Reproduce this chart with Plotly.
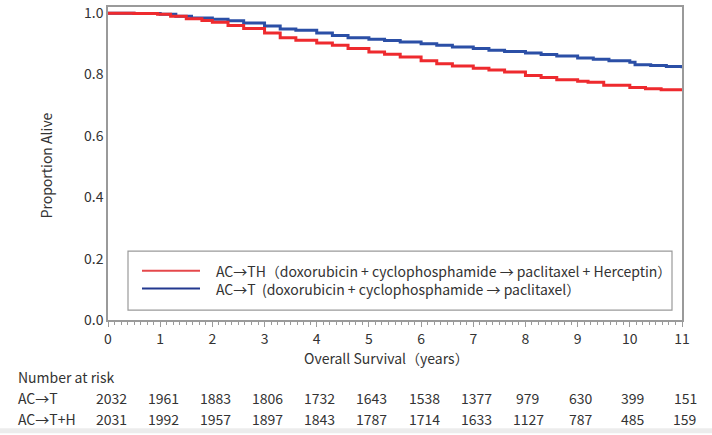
import plotly.graph_objects as go

# ---- data ----
t_act = [0, 0.5, 1.0, 1.3, 1.6, 2.0, 2.3, 2.6, 3.0, 3.3, 3.6, 4.0, 4.3, 4.6, 5.0, 5.3, 5.6,
         6.0, 6.3, 6.6, 7.0, 7.3, 7.6, 8.0, 8.3, 8.6, 9.0, 9.3, 9.6, 10.0, 10.1, 10.4, 10.7, 11.0]
s_act = [1.0, 0.999, 0.996, 0.99, 0.984, 0.98, 0.975, 0.968, 0.958, 0.948, 0.944, 0.935, 0.927,
         0.92, 0.915, 0.911, 0.906, 0.9, 0.895, 0.89, 0.885, 0.879, 0.875, 0.87, 0.865, 0.86,
         0.854, 0.85, 0.845, 0.84, 0.832, 0.829, 0.826, 0.82]

t_acth = [0, 0.5, 0.95, 1.2, 1.5, 1.8, 2.0, 2.3, 2.6, 3.0, 3.3, 3.6, 4.0, 4.3, 4.6, 5.0, 5.3,
          5.6, 6.0, 6.3, 6.6, 7.0, 7.3, 7.6, 8.0, 8.3, 8.6, 9.0, 9.2, 9.5, 10.0, 10.3, 10.6, 11.0]
s_acth = [1.0, 0.999, 0.996, 0.99, 0.982, 0.976, 0.97, 0.96, 0.95, 0.935, 0.92, 0.912, 0.903,
          0.895, 0.885, 0.873, 0.866, 0.857, 0.845, 0.835, 0.828, 0.82, 0.815, 0.808, 0.797,
          0.79, 0.783, 0.778, 0.775, 0.765, 0.758, 0.754, 0.75, 0.75]

risk_years = list(range(0, 12))
risk_act = [2032, 1961, 1883, 1806, 1732, 1643, 1538, 1377, 979, 630, 399, 151]
risk_acth = [2031, 1992, 1957, 1897, 1843, 1787, 1714, 1633, 1127, 787, 485, 159]

label_acth = "AC→TH（doxorubicin + cyclophosphamide → paclitaxel + Herceptin）"
label_act = "AC→T  (doxorubicin + cyclophosphamide → paclitaxel）"
row_act = "AC→T"
row_acth = "AC→T+H"

RED = "#EE2A2E"
BLUE = "#2B4FA6"
FONT = "Noto Sans CJK SC"
TXT = "#333333"
FS = 14

fig = go.Figure()
fig.add_trace(go.Scatter(x=t_act, y=s_act, mode="lines", line=dict(color=BLUE, width=3, shape="hv"),
                         name=label_act, showlegend=False, hoverinfo="skip"))
fig.add_trace(go.Scatter(x=t_acth, y=s_acth, mode="lines", line=dict(color=RED, width=3, shape="hv"),
                         name=label_acth, showlegend=False, hoverinfo="skip"))

W, H = 712, 435
L, R, T, B = 108, 30, 2, 115
pw, ph = W - L - R, H - T - B

def px(x):
    return (x - L) / pw

def py(y):
    return 1 - (y - T) / ph

fig.update_layout(
    width=W, height=H,
    margin=dict(l=L, r=R, t=T, b=B),
    paper_bgcolor="white", plot_bgcolor="white",
    font=dict(family=FONT, size=FS, color=TXT),
    showlegend=False,
    xaxis=dict(range=[0, 11], tickmode="linear", dtick=1, showgrid=False, zeroline=False,
               showline=True, linecolor="#9a9a9a", linewidth=1.5, mirror=True,
               ticks="outside", ticklen=5, tickcolor="#9a9a9a",
               minor=dict(dtick=0.125, ticks="outside", ticklen=3, tickcolor="#9a9a9a"),
               tickfont=dict(size=FS, color=TXT)),
    yaxis=dict(range=[0, 1.02], tickmode="array", tickvals=[0, 0.2, 0.4, 0.6, 0.8, 1.0],
               ticktext=["0.0", "0.2", "0.4", "0.6", "0.8", "1.0"],
               showgrid=False, zeroline=False, showline=True, linecolor="#9a9a9a", linewidth=1.5,
               mirror=True, ticks="", ticklen=0, ticklabeloverflow="allow",
               tickfont=dict(size=FS, color=TXT)),
)

shapes = []
# legend box
shapes.append(dict(type="rect", xref="paper", yref="paper", x0=px(128), x1=px(672), y0=py(310), y1=py(250),
                   line=dict(color="#9a9a9a", width=1.2), fillcolor="white", layer="above"))
shapes.append(dict(type="line", xref="paper", yref="paper", x0=px(142), x1=px(200), y0=py(270), y1=py(270),
                   line=dict(color="#E5484B", width=2)))
shapes.append(dict(type="line", xref="paper", yref="paper", x0=px(142), x1=px(200), y0=py(288), y1=py(288),
                   line=dict(color="#23398F", width=2)))
# bottom gray band
shapes.append(dict(type="rect", xref="paper", yref="paper", x0=px(0), x1=px(W), y0=py(435), y1=py(430),
                   line=dict(width=0), fillcolor="#ececec", layer="below"))
fig.update_layout(shapes=shapes)

ann = []
ann.append(dict(text=label_acth + "<br>" + label_act, xref="paper", yref="paper", x=px(214), y=py(279),
                xanchor="left", yanchor="middle", align="left", showarrow=False))
ann.append(dict(text="Proportion Alive", xref="paper", yref="paper", x=px(46), y=py(163), textangle=-90,
                xanchor="center", yanchor="middle", showarrow=False))
ann.append(dict(text="Overall Survival（years）", xref="paper", yref="paper", x=px(386), y=py(359),
                xanchor="center", yanchor="middle", showarrow=False))
ann.append(dict(text="Number at risk", xref="paper", yref="paper", x=px(16), y=py(378),
                xanchor="left", yanchor="middle", showarrow=False))
ann.append(dict(text=row_act, xref="paper", yref="paper", x=px(16), y=py(399),
                xanchor="left", yanchor="middle", showarrow=False))
ann.append(dict(text=row_acth, xref="paper", yref="paper", x=px(16), y=py(421),
                xanchor="left", yanchor="middle", showarrow=False))
for yr, n in zip(risk_years, risk_act):
    ann.append(dict(text=str(n), xref="x", yref="paper", x=yr, y=py(399), xanchor="center",
                    yanchor="middle", showarrow=False, xshift=3))
for yr, n in zip(risk_years, risk_acth):
    ann.append(dict(text=str(n), xref="x", yref="paper", x=yr, y=py(421), xanchor="center",
                    yanchor="middle", showarrow=False, xshift=3))
fig.update_layout(annotations=ann)

fig.write_html("out.html", config={"displayModeBar": False},
               post_script="document.body.style.margin='0';document.body.style.overflow='hidden';")
